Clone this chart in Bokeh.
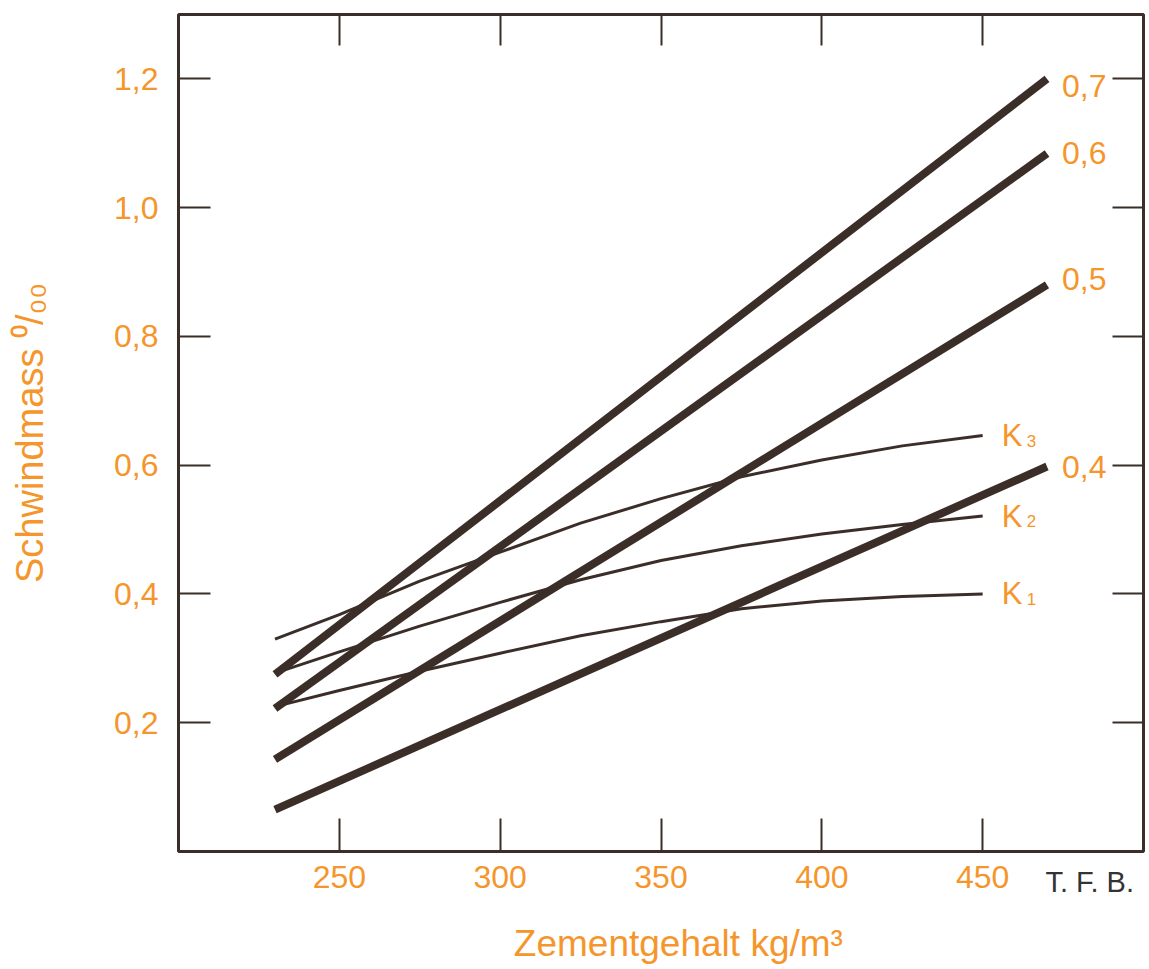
from bokeh.plotting import figure
from bokeh.models import (FixedTicker, CustomJSTickFormatter, LinearAxis, Label,
                          ColumnDataSource, Range1d)
from bokeh.core.properties import value
from bokeh.embed import file_html
from bokeh.resources import INLINE

# ---------------- data ----------------
cement = [230, 470]                       # thick lines (w/c ratio)
wc_names = ["0,4", "0,5", "0,6", "0,7"]
wc_04 = [0.065, 0.598]
wc_05 = [0.143, 0.880]
wc_06 = [0.222, 1.084]
wc_07 = [0.275, 1.200]

k_cement = [230, 250, 275, 300, 325, 350, 375, 400, 425, 450]
k1 = [0.225, 0.250, 0.280, 0.308, 0.335, 0.357, 0.377, 0.389, 0.396, 0.400]
k2 = [0.277, 0.310, 0.350, 0.387, 0.422, 0.452, 0.475, 0.493, 0.508, 0.521]
k3 = [0.330, 0.368, 0.420, 0.465, 0.510, 0.548, 0.582, 0.608, 0.630, 0.646]
k_names = ["K", "K", "K"]
k_subs = ["1", "2", "3"]

x_ticks = [250, 300, 350, 400, 450]
y_ticks = [0.2, 0.4, 0.6, 0.8, 1.0, 1.2]

x_title = "Zementgehalt kg/m³"
y_title = "Schwindmass ⁰/₀₀"
source_note = "T. F. B."

# ---------------- style ----------------
DARK = "#3b2e29"
ORANGE = "#f5962c"
FONT = "Liberation Sans"
wc_label_dy = [1, -6, -1, 7]   # small vertical nudges of the end labels (px)

p = figure(width=1146, height=965, x_range=Range1d(200, 500), y_range=Range1d(0, 1.3),
           output_backend="svg", toolbar_location=None,
           min_border_left=178, min_border_right=3, min_border_top=14, min_border_bottom=114)
p.grid.visible = False
p.outline_line_color = DARK
p.outline_line_width = 3
p.background_fill_color = "white"
p.border_fill_color = "white"

# bottom axis
xa = p.xaxis[0]
xa.ticker = FixedTicker(ticks=x_ticks)
xa.major_tick_in = 33
xa.major_tick_out = 0
xa.minor_tick_line_color = None
xa.axis_line_color = None
xa.major_tick_line_color = DARK
xa.major_tick_line_width = 2
xa.major_label_text_font_size = "32px"
xa.major_label_text_color = ORANGE
xa.major_label_text_font = FONT
xa.major_label_standoff = 14

# left axis
ya = p.yaxis[0]
ya.ticker = FixedTicker(ticks=y_ticks)
ya.formatter = CustomJSTickFormatter(code="return tick.toFixed(1).replace('.', ',');")
ya.major_tick_in = 32
ya.major_tick_out = 0
ya.minor_tick_line_color = None
ya.axis_line_color = None
ya.major_tick_line_color = DARK
ya.major_tick_line_width = 2
ya.major_label_text_font_size = "32px"
ya.major_label_text_color = ORANGE
ya.major_label_text_font = FONT
ya.major_label_standoff = 20
ya.axis_label = y_title
ya.axis_label_text_font_size = "38px"
ya.axis_label_text_font_style = "normal"
ya.axis_label_text_color = ORANGE
ya.axis_label_text_font = FONT
ya.axis_label_standoff = 60

blank = CustomJSTickFormatter(code="return '';")
ra = LinearAxis(ticker=FixedTicker(ticks=y_ticks), formatter=blank, major_tick_in=31,
                major_tick_out=0, major_label_text_font_size="0px", major_label_standoff=0,
                axis_line_color=None, minor_tick_line_color=None,
                major_tick_line_color=DARK, major_tick_line_width=2)
p.add_layout(ra, "right")
ta = LinearAxis(ticker=FixedTicker(ticks=x_ticks), formatter=blank, major_tick_in=31,
                major_tick_out=0, major_label_text_font_size="0px", major_label_standoff=0,
                axis_line_color=None, minor_tick_line_color=None,
                major_tick_line_color=DARK, major_tick_line_width=2)
p.add_layout(ta, "above")

# thin K curves
for ys in (k1, k2, k3):
    p.line(k_cement, ys, line_color=DARK, line_width=3)

# thick w/c lines
wc_series = [wc_04, wc_05, wc_06, wc_07]
for ys in wc_series:
    p.line(cement, ys, line_color=DARK, line_width=8, line_cap="butt")

# end labels for thick lines
wc_src = ColumnDataSource(dict(x=[cement[-1]] * len(wc_series),
                               y=[s[-1] for s in wc_series], text=wc_names,
                               dy=wc_label_dy))
p.text("x", "y", text="text", source=wc_src, x_offset=15, y_offset="dy",
       text_font=value(FONT), text_font_size="32px", text_color=ORANGE,
       text_baseline="middle", text_align="left")

# K labels (letter + small index digit on the same baseline)
k_src = ColumnDataSource(dict(x=[k_cement[-1]] * 3, y=[k1[-1], k2[-1], k3[-1]],
                              k=k_names, s=k_subs))
p.text("x", "y", text="k", source=k_src, x_offset=19, y_offset=0,
       text_font=value(FONT), text_font_size="31px", text_color=ORANGE,
       text_baseline="middle", text_align="left")
p.text("x", "y", text="s", source=k_src, x_offset=44, y_offset=5,
       text_font=value(FONT), text_font_size="17px", text_color=ORANGE,
       text_baseline="middle", text_align="left")

# titles / notes, placed in the bottom side panel so they are not clipped to the frame
p.add_layout(Label(x=355.4, y=-0.143, text=x_title,
                   text_align="center", text_baseline="middle", text_font_size="37px",
                   text_color=ORANGE, text_font=FONT), "below")
p.add_layout(Label(x=469.5, y=-0.048, text=source_note,
                   text_align="left", text_baseline="middle", text_font_size="29px",
                   text_color="#333333", text_font=FONT), "below")

open("out.html", "w").write(file_html(p, INLINE))
